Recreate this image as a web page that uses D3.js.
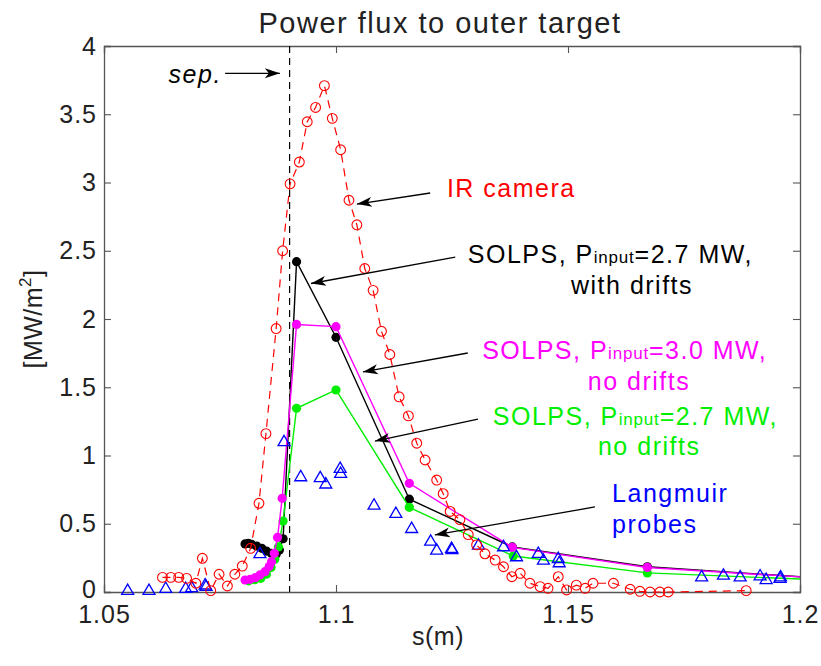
<!DOCTYPE html>
<html>
<head>
<meta charset="utf-8">
<script src="https://cdn.jsdelivr.net/npm/d3@7"></script>
<style>
  body { margin: 0; background: #fff; }
  text { font-family: "Liberation Sans", Arial, sans-serif; }
</style>
</head>
<body>
<svg id="chart"></svg>
<script>
// IR camera (red circles, dashed line)
const irS = [1.0626, 1.0644, 1.0661, 1.0678, 1.0698, 1.0712, 1.073, 1.0748, 1.0766, 1.0782,
  1.0798, 1.0816, 1.0834, 1.0849, 1.0871, 1.0885, 1.0901, 1.0921, 1.0938, 1.0956,
  1.0975, 1.0992, 1.101, 1.1028, 1.1045, 1.1062, 1.108, 1.1098, 1.1116, 1.1136,
  1.1156, 1.1174, 1.1192, 1.1217, 1.1231, 1.1246, 1.1267, 1.1285, 1.1303, 1.1321,
  1.1343, 1.1361, 1.1379, 1.1397, 1.1418, 1.144, 1.1457, 1.1479, 1.1497, 1.1518,
  1.1537, 1.1554, 1.1598, 1.1634, 1.1655, 1.1677, 1.1698, 1.1716, 1.1884];
const irQ = [0.107, 0.107, 0.107, 0.10, 0.064, 0.247, 0.01, 0.13, 0.044, 0.13,
  0.19, 0.32, 0.65, 1.16, 1.93, 2.50, 2.99, 3.15, 3.445, 3.55,
  3.71, 3.47, 3.24, 2.87, 2.69, 2.37, 2.21, 1.91, 1.74, 1.43,
  1.29, 1.09, 0.967, 0.82, 0.72, 0.59, 0.53, 0.42, 0.345, 0.28,
  0.234, 0.185, 0.112, 0.137, 0.064, 0.039, 0.027, 0.112, 0.015, 0.05,
  0.027, 0.064, 0.064, 0.02, 0.005, 0.0, 0.0, 0.0, 0.01];

// SOLPS, 2.7 MW, with drifts (black)
const drift27S = [1.0804, 1.0811, 1.0818, 1.0829, 1.084, 1.085, 1.0861, 1.0871, 1.0878, 1.0886,
  1.0915, 1.1, 1.1158, 1.138, 1.1671, 1.205];
const drift27Q = [0.352, 0.357, 0.35, 0.337, 0.32, 0.30, 0.283, 0.276, 0.308, 0.39,
  2.42, 1.866, 0.68, 0.33, 0.185, 0.10];

// SOLPS, 3.0 MW, no drifts (magenta)
const nod30S = [1.0804, 1.0815, 1.0826, 1.0836, 1.0847, 1.0856, 1.0861, 1.0867, 1.0874, 1.0884,
  1.0915, 1.1, 1.1158, 1.138, 1.1671, 1.205];
const nod30Q = [0.088, 0.093, 0.105, 0.125, 0.149, 0.186, 0.222, 0.283, 0.40, 0.686,
  1.96, 1.944, 0.796, 0.327, 0.18, 0.10];

// SOLPS, 2.7 MW, no drifts (green)
const nod27S = [1.0812, 1.0825, 1.0838, 1.085, 1.086, 1.0868, 1.0876, 1.0886,
  1.0915, 1.1, 1.1158, 1.1382, 1.1671, 1.205];
const nod27Q = [0.082, 0.09, 0.10, 0.13, 0.18, 0.24, 0.33, 0.52,
  1.346, 1.48, 0.62, 0.264, 0.14, 0.088];

// Langmuir probes (blue triangles)
const lpS = [1.0551, 1.0597, 1.0633, 1.0676, 1.0689, 1.0718, 1.072, 1.0836, 1.0888, 1.0924,
  1.0966, 1.0978, 1.1009, 1.101, 1.1082, 1.1129, 1.1163, 1.1204, 1.1217, 1.1249,
  1.125, 1.1307, 1.1361, 1.1389, 1.1436, 1.1447, 1.1479, 1.1481, 1.1788, 1.1835,
  1.1871, 1.1914, 1.1927, 1.1957, 1.1958];
const lpQ = [0.0, 0.0, 0.015, 0.015, 0.02, 0.04, 0.03, 0.27, 1.09, 0.833,
  0.826, 0.78, 0.894, 0.857, 0.625, 0.564, 0.454, 0.361, 0.295, 0.308,
  0.30, 0.332, 0.32, 0.247, 0.271, 0.222, 0.234, 0.203, 0.10, 0.112,
  0.10, 0.107, 0.08, 0.088, 0.10];

const xTicks = [1.05, 1.1, 1.15, 1.2];
const yTicks = [0, 0.5, 1, 1.5, 2, 2.5, 3, 3.5, 4];
const sepS = 1.09;

const W = 821, H = 666;
const margin = { top: 46, right: 21, bottom: 74, left: 104 };
const width = W - margin.left - margin.right;
const height = H - margin.top - margin.bottom;

const svg = d3.select("#chart").attr("width", W).attr("height", H);
const g = svg.append("g").attr("transform", "translate(" + margin.left + "," + margin.top + ")");

const x = d3.scaleLinear().domain([1.05, 1.2]).range([0, width]);
const y = d3.scaleLinear().domain([0, 4]).range([height, 0]);

svg.append("defs").append("clipPath").attr("id", "plotclip")
  .append("rect").attr("x", 0).attr("y", -6).attr("width", width).attr("height", height + 12);

const axisColor = "#555";
const labelColor = "#222";

// axes, matlab style: inward ticks, mirrored on top and right
const fmt = d => String(d);
const axB = g.append("g").attr("transform", "translate(0," + height + ")")
  .call(d3.axisBottom(x).tickValues(xTicks).tickSize(-7).tickPadding(13).tickFormat(fmt));
const axT = g.append("g")
  .call(d3.axisTop(x).tickValues(xTicks).tickSize(-7).tickFormat(""));
const axL = g.append("g")
  .call(d3.axisLeft(y).tickValues(yTicks).tickSize(-7).tickPadding(7).tickFormat(fmt));
const axR = g.append("g").attr("transform", "translate(" + width + ",0)")
  .call(d3.axisRight(y).tickValues(yTicks).tickSize(-7).tickFormat(""));

[axB, axT, axL, axR].forEach(a => {
  a.select(".domain").attr("stroke", axisColor).attr("stroke-width", 1.3);
  a.selectAll(".tick line").attr("stroke", axisColor).attr("stroke-width", 1.1);
  a.selectAll(".tick text").attr("fill", labelColor)
    .style("font-size", "25px").style("letter-spacing", "1px")
    .style("font-family", "'Liberation Sans', Arial, sans-serif");
});
// keep the "0" label clear of the "1.05" label
axL.selectAll(".tick text").filter(d => d === 0).attr("dy", "0.2em");

const plot = g.append("g").attr("clip-path", "url(#plotclip)");

// separatrix
plot.append("line")
  .attr("x1", x(sepS)).attr("x2", x(sepS))
  .attr("y1", 0).attr("y2", height)
  .attr("stroke", "#000").attr("stroke-width", 1.2)
  .attr("stroke-dasharray", "7,5");

const line = d3.line().x(d => x(d[0])).y(d => y(d[1]));
const zip = (a, b) => a.map((v, i) => [v, b[i]]);

function solps(sArr, qArr, color) {
  const pts = zip(sArr, qArr);
  plot.append("path").datum(pts)
    .attr("fill", "none").attr("stroke", color).attr("stroke-width", 1.4)
    .attr("d", line);
  plot.append("g").selectAll("circle").data(pts).join("circle")
    .attr("cx", d => x(d[0])).attr("cy", d => y(d[1]))
    .attr("r", 4.6).attr("fill", color);
}

solps(drift27S, drift27Q, "#000000");
solps(nod27S, nod27Q, "#00ee00");
solps(nod30S, nod30Q, "#ff00ff");

// Langmuir probes
plot.append("g").selectAll("path").data(zip(lpS, lpQ)).join("path")
  .attr("d", d3.symbol().type(d3.symbolTriangle).size(62))
  .attr("transform", d => "translate(" + x(d[0]) + "," + (y(d[1]) - 1) + ")")
  .attr("fill", "none").attr("stroke", "#0000ff").attr("stroke-width", 1.3);

// IR camera
const irPts = zip(irS, irQ);
plot.append("path").datum(irPts)
  .attr("fill", "none").attr("stroke", "#ff0000").attr("stroke-width", 1.2)
  .attr("stroke-dasharray", "8,6")
  .attr("d", line);
plot.append("g").selectAll("circle").data(irPts).join("circle")
  .attr("cx", d => x(d[0])).attr("cy", d => y(d[1]))
  .attr("r", 4.9).attr("fill", "none").attr("stroke", "#ff0000").attr("stroke-width", 1.1);

// arrows
svg.select("defs").append("marker")
  .attr("id", "head").attr("viewBox", "-16 -6 18 12")
  .attr("refX", 0).attr("refY", 0)
  .attr("markerWidth", 18).attr("markerHeight", 12)
  .attr("markerUnits", "userSpaceOnUse")
  .attr("orient", "auto")
  .append("path").attr("d", "M0,0 L-15,-5 L-11,0 L-15,5 Z").attr("fill", "#000");

const arrows = [
  [[1.0761, 3.80], [1.0879, 3.80]],
  [[1.1203, 2.923], [1.1045, 2.842]],
  [[1.1257, 2.454], [1.0946, 2.26]],
  [[1.1284, 1.751], [1.1058, 1.612]],
  [[1.1306, 1.267], [1.1084, 1.106]],
  [[1.1558, 0.623], [1.1213, 0.418]]
];
g.append("g").selectAll("line").data(arrows).join("line")
  .attr("x1", d => x(d[0][0])).attr("y1", d => y(d[0][1]))
  .attr("x2", d => x(d[1][0])).attr("y2", d => y(d[1][1]))
  .attr("stroke", "#000").attr("stroke-width", 1.3)
  .attr("marker-end", "url(#head)");

// annotation text (in plot coordinates)
function note(xv, yv, anchor, color, parts, italic) {
  const t = g.append("text")
    .attr("x", x(xv)).attr("y", y(yv))
    .attr("text-anchor", anchor).attr("fill", color)
    .style("font-size", "25px").style("letter-spacing", "1.5px");
  if (italic) t.style("font-style", "italic");
  parts.forEach(p => {
    if (typeof p === "string") t.append("tspan").text(p);
    else t.append("tspan").style("font-size", p.size + "px").style("letter-spacing", "0.8px").text(p.t);
  });
  return t;
}
const sub = { t: "input", size: 17 };

note(1.0754, 3.73, "end", "#000", ["sep."], true);
note(1.1239, 2.894, "start", "#ff0000", ["IR camera"]);
note(1.1284, 2.41, "start", "#000", ["SOLPS, P", sub, "=2.7 MW,"]);
note(1.1638, 2.183, "middle", "#000", ["with drifts"]);
note(1.1315, 1.707, "start", "#ff00ff", ["SOLPS, P", sub, "=3.0 MW,"]);
note(1.1653, 1.48, "middle", "#ff00ff", ["no drifts"]);
note(1.1338, 1.223, "start", "#00ee00", ["SOLPS, P", sub, "=2.7 MW,"]);
note(1.1675, 1.004, "middle", "#00ee00", ["no drifts"]);
note(1.1595, 0.66, "start", "#0000ff", ["Langmuir"]);
note(1.1595, 0.432, "start", "#0000ff", ["probes"]);

// title and axis labels
svg.append("text").attr("x", 440).attr("y", 33).attr("text-anchor", "middle")
  .attr("fill", labelColor).style("font-size", "29px").style("letter-spacing", "1.5px")
  .text("Power flux to outer target");

svg.append("text").attr("x", 438).attr("y", 645).attr("text-anchor", "middle")
  .attr("fill", labelColor).style("font-size", "25px").style("letter-spacing", "0.5px")
  .text("s(m)");

const yl = svg.append("text")
  .attr("transform", "translate(42," + (margin.top + height / 2) + ") rotate(-90)")
  .attr("text-anchor", "middle").attr("fill", labelColor)
  .style("font-size", "25px").style("letter-spacing", "0.5px");
yl.append("tspan").text("[MW/m");
yl.append("tspan").attr("dy", -11).style("font-size", "17px").text("2");
yl.append("tspan").attr("dy", 11).text("]");
</script>
</body>
</html>
